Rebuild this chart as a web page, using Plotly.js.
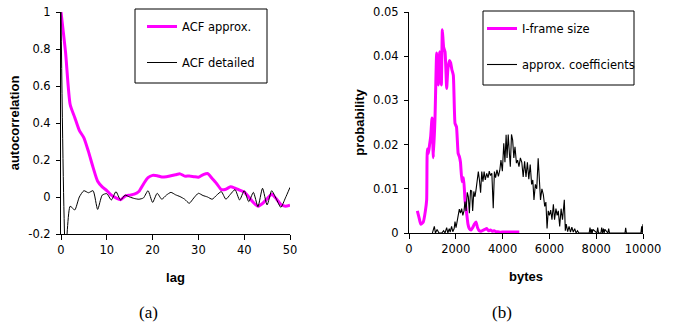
<!DOCTYPE html>
<html>
<head>
<meta charset="utf-8">
<script src="https://cdn.plot.ly/plotly-3.0.1.min.js"></script>
<style>
html,body{margin:0;padding:0;background:#fff;}
#chart{width:673px;height:325px;}
</style>
</head>
<body>
<div id="chart"></div>
<script>
// ---- Panel (a): autocorrelation vs lag ----
var lags = [];
for (var i = 0; i <= 50; i++) lags.push(i);
var acfApprox = [1.0, 0.78, 0.50, 0.43, 0.36, 0.32, 0.245, 0.16, 0.085, 0.055,
  0.035, 0.01, -0.005, -0.015, 0.005, 0.01, 0.015, 0.03, 0.07, 0.105,
  0.117, 0.115, 0.108, 0.11, 0.115, 0.12, 0.125, 0.113, 0.113, 0.11,
  0.107, 0.12, 0.127, 0.10, 0.072, 0.04, 0.042, 0.055, 0.048, 0.037,
  0.027, 0.0, -0.03, -0.05, -0.035, -0.01, 0.015, -0.01, -0.04, -0.05, -0.045];
var acfDetailed = [1.0, -0.3, -0.05, -0.07, 0.0, 0.034, 0.023, 0.034, -0.067, 0.01,
  0.018, -0.016, 0.029, -0.016, 0.01, 0.0, -0.008, -0.012, -0.005, 0.034,
  -0.029, 0.02, -0.012, 0.01, 0.025, 0.012, 0.002, -0.012, -0.034, -0.005,
  0.02, 0.008, 0.0, -0.012, 0.01, 0.029, -0.012, 0.015, 0.04, -0.016,
  0.034, -0.025, 0.025, -0.052, 0.047, -0.043, 0.034, -0.01, -0.056, -0.005, 0.052];
var lagTicks = [0, 10, 20, 30, 40, 50];
var acfTickVals = [-0.2, 0, 0.2, 0.4, 0.6, 0.8, 1];
var acfTickText = ["-0.2", "0", "0.2", "0.4", "0.6", "0.8", "1"];

// ---- Panel (b): probability vs bytes ----
var iframeBytes = [356, 430, 500, 611, 700, 755, 782, 830, 880, 926, 983, 1040, 1111, 1182, 1254,
  1310, 1382, 1425, 1480, 1540, 1610, 1660, 1723, 1780, 1830, 1895, 1966, 2030, 2100, 2151,
  2200, 2265, 2330, 2393, 2464, 2520, 2578, 2650, 2720, 2790, 2863, 2930, 3006, 3080, 3160,
  3240, 3319, 3400, 3480, 3560, 3640, 3720, 3800, 3900, 4000, 4100, 4200, 4300, 4400, 4500,
  4600, 4714];
var iframeProb = [0.005, 0.0035, 0.002, 0.0025, 0.005, 0.0075, 0.019, 0.018, 0.02, 0.0218,
  0.026, 0.017, 0.026, 0.0407, 0.0335, 0.041, 0.0335, 0.046, 0.042, 0.041, 0.0327, 0.037,
  0.039, 0.0385, 0.037, 0.0357, 0.0248, 0.024, 0.018, 0.0173, 0.016, 0.0116, 0.0125, 0.0075,
  0.0045, 0.002, 0.001, 0.0007, 0.0012, 0.002, 0.0025, 0.0012, 0.0005, 0.0004, 0.0006,
  0.0008, 0.001, 0.0005, 0.0007, 0.0004, 0.0005, 0.0003, 0.0003, 0.0002, 0.0002, 0.0002,
  0.0002, 0.0002, 0.0002, 0.0002, 0.0002, 0.0002];
var coefBytes = [1000, 1083, 1130, 1200, 1280, 1400, 1480, 1540, 1610, 1660, 1720, 1760, 1820,
  1870, 1930, 1966, 2010, 2060, 2108, 2151, 2200, 2250, 2300, 2350, 2393, 2440, 2490, 2536,
  2580, 2630, 2678, 2720, 2770, 2820, 2870, 2920, 2963, 3010, 3060, 3110, 3160, 3210, 3260,
  3320, 3380, 3430, 3480, 3540, 3600, 3650, 3700, 3760, 3820, 3880, 3930, 3990, 4050, 4100,
  4150, 4190, 4240, 4290, 4330, 4380, 4430, 4480, 4530, 4590, 4640, 4700, 4760, 4820, 4880,
  4940, 5000, 5060, 5120, 5180, 5240, 5290, 5340, 5400, 5460, 5520, 5570, 5620, 5680, 5740,
  5800, 5850, 5900, 5950, 6000, 6055, 6110, 6170, 6220, 6280, 6330, 6380, 6440, 6500, 6560,
  6637, 6680, 6720, 6780, 6840, 6900, 6960, 7020, 7080, 7140, 7200, 7260, 7700, 7735, 7770,
  7800, 7830, 7860, 8030, 8063, 8100, 8200, 8234, 8270, 8310, 8340, 8370, 8500, 8533, 8570,
  9230, 9260, 9290, 9910, 9944, 9970, 10000];
var coefProb = [0, 0.0015, 0, 0.0008, 0, 0, 0.0005, 0, 0.0012, 0, 0.001, 0.0002, 0.0015,
  0.0003, 0.001, 0.0026, 0.0012, 0.003, 0.0045, 0.0054, 0.0045, 0.0055, 0.004, 0.005, 0.0071,
  0.005, 0.0092, 0.0082, 0.0045, 0.0097, 0.0095, 0.005, 0.0094, 0.0082, 0.01, 0.0116, 0.0139,
  0.012, 0.0091, 0.0139, 0.0116, 0.0139, 0.012, 0.0135, 0.0125, 0.014, 0.013, 0.0135, 0.0056,
  0.0139, 0.0125, 0.0143, 0.0128, 0.0142, 0.0165, 0.014, 0.0203, 0.016, 0.0222, 0.017, 0.0223,
  0.018, 0.015, 0.0223, 0.021, 0.017, 0.0195, 0.0158, 0.0165, 0.015, 0.017, 0.016, 0.0127,
  0.0162, 0.0127, 0.016, 0.0122, 0.0155, 0.011, 0.012, 0.0075, 0.011, 0.01, 0.0169, 0.01,
  0.0075, 0.01, 0.0087, 0.006, 0.007, 0.001, 0.005, 0.004, 0.0052, 0.003, 0.0065, 0.003,
  0.0055, 0.004, 0.005, 0.0015, 0.0055, 0.003, 0.0075, 0.0005, 0.002, 0.0003, 0.0015, 0.0002,
  0.0013, 0.0002, 0.001, 0, 0.0005, 0, 0, 0.0012, 0, 0.0008, 0, 0.0008, 0, 0.0012, 0, 0,
  0.0012, 0, 0.001, 0, 0.0008, 0, 0.001, 0, 0, 0.0012, 0, 0, 0.0015, 0, 0.002];
var byteTicks = [0, 2000, 4000, 6000, 8000, 10000];
var byteTickText = ["0", "2000", "4000", "6000", "8000", "10000"];
var probTicks = [0, 0.01, 0.02, 0.03, 0.04, 0.05];
var probTickText = ["0", "0.01", "0.02", "0.03", "0.04", "0.05"];

var MAG = '#FF00FF';
var FONT = 'DejaVu Sans, Liberation Sans, Arial, sans-serif';
var TFONT = 'Liberation Sans, Arial, sans-serif';
var W = 673, H = 325;
function px(x) { return x / W; }
function py(y) { return 1 - y / H; }

var traces = [
  {x: lags, y: acfApprox, type: 'scatter', mode: 'lines', name: 'ACF approx.',
   line: {color: MAG, width: 3, shape: 'spline', smoothing: 0.6},
   xaxis: 'x', yaxis: 'y', legend: 'legend', legendgroup: 'a1'},
  {x: lags, y: acfDetailed, type: 'scatter', mode: 'lines', name: 'ACF detailed',
   line: {color: '#000', width: 1, shape: 'spline', smoothing: 0.6},
   xaxis: 'x', yaxis: 'y', legend: 'legend', legendgroup: 'a2'},
  {x: iframeBytes, y: iframeProb, type: 'scatter', mode: 'lines', name: 'I-frame size',
   line: {color: MAG, width: 3, shape: 'spline', smoothing: 0.4},
   xaxis: 'x2', yaxis: 'y2', legend: 'legend2', legendgroup: 'b1'},
  {x: coefBytes, y: coefProb, type: 'scatter', mode: 'lines', name: 'approx. coefficients',
   line: {color: '#000', width: 1.1},
   xaxis: 'x2', yaxis: 'y2', legend: 'legend2', legendgroup: 'b2'}
];

var axisCommon = {
  showgrid: false, zeroline: false, showline: true, linecolor: '#000', linewidth: 1,
  ticks: 'outside', tickcolor: '#000', tickwidth: 1,
  tickfont: {family: FONT, size: 11.5, color: '#000'}, fixedrange: true
};
function ax(extra) { return Object.assign({}, axisCommon, extra); }
var titleFont = {family: TFONT, size: 13, color: '#000'};

var legendCommon = {
  bgcolor: 'rgba(0,0,0,0)', borderwidth: 0, font: {family: FONT, size: 11.5, color: '#000'},
  xanchor: 'left', yanchor: 'top', traceorder: 'grouped', tracegroupgap: 17, itemwidth: 30
};

var layout = {
  width: W, height: H, margin: {l: 0, r: 0, t: 0, b: 0},
  paper_bgcolor: '#fff', plot_bgcolor: '#fff', showlegend: true,
  font: {family: FONT, size: 11.5, color: '#000'},
  xaxis: ax({domain: [px(61), px(290)], range: [0, 50], anchor: 'y',
    tickvals: lagTicks, ticklen: 5,
    title: {text: '<b>lag</b>', font: titleFont, standoff: 17}}),
  yaxis: ax({domain: [py(234), py(12)], range: [-0.2, 1], anchor: 'x',
    tickvals: acfTickVals, ticktext: acfTickText, ticklen: 4, ticklabelstandoff: 3,
    title: {text: '<b>autocorrelation</b>', font: titleFont, standoff: 5}}),
  xaxis2: ax({domain: [px(409), px(643)], range: [0, 10000], anchor: 'y2',
    tickvals: byteTicks, ticktext: byteTickText, ticklen: 5,
    title: {text: '<b>bytes</b>', font: titleFont, standoff: 17}}),
  yaxis2: ax({domain: [py(233), py(12)], range: [0, 0.05], anchor: 'x2',
    tickvals: probTicks, ticktext: probTickText, ticklen: 4, ticklabelstandoff: 3,
    title: {text: '<b>probability</b>', font: titleFont, standoff: 5}}),
  legend: Object.assign({}, legendCommon, {x: px(142), y: py(12)}),
  legend2: Object.assign({}, legendCommon, {x: px(482), y: py(14)}),
  shapes: [
    {type: 'rect', xref: 'paper', yref: 'paper', x0: px(135), x1: px(267), y0: py(83), y1: py(9),
     line: {color: '#000', width: 1}, fillcolor: 'rgba(0,0,0,0)'},
    {type: 'rect', xref: 'paper', yref: 'paper', x0: px(483), x1: px(634), y0: py(85), y1: py(11),
     line: {color: '#000', width: 1}, fillcolor: 'rgba(0,0,0,0)'}
  ],
  annotations: [
    {text: '(a)', xref: 'paper', yref: 'paper', x: px(148), y: py(312), showarrow: false,
     xanchor: 'center', yanchor: 'middle', font: {family: 'Liberation Serif, Times New Roman, serif', size: 17, color: '#000'}},
    {text: '(b)', xref: 'paper', yref: 'paper', x: px(502), y: py(312), showarrow: false,
     xanchor: 'center', yanchor: 'middle', font: {family: 'Liberation Serif, Times New Roman, serif', size: 17, color: '#000'}}
  ]
};

Plotly.newPlot('chart', traces, layout, {staticPlot: true, displayModeBar: false});
</script>
</body>
</html>
